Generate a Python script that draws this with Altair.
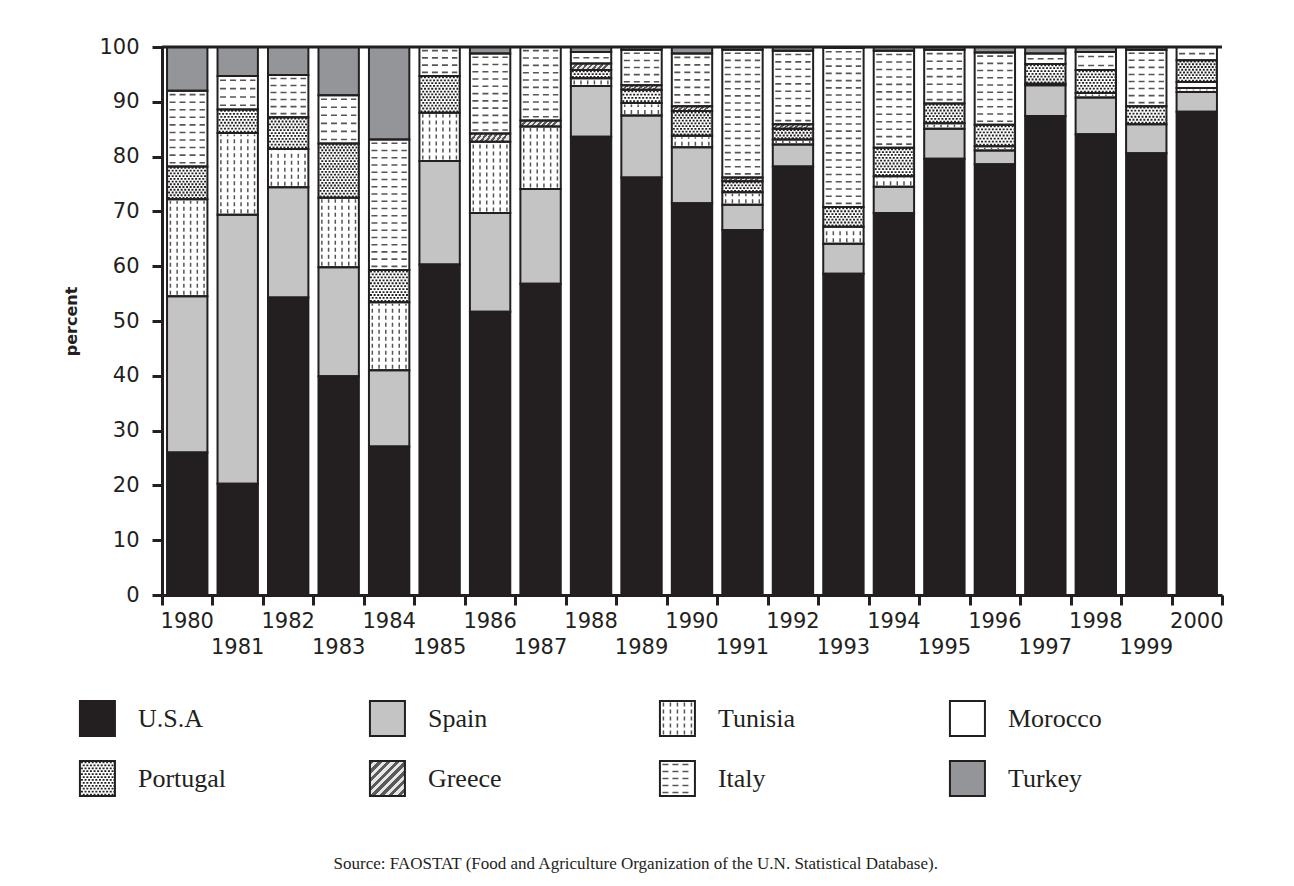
import altair as alt
import pandas as pd

# ---------------- data ----------------
years = list(range(1980, 2001))
countries = ["U.S.A", "Spain", "Tunisia", "Morocco", "Portugal", "Greece", "Italy", "Turkey"]

usa      = [26.0, 20.3, 54.3, 39.9, 27.1, 60.3, 51.7, 56.8, 83.6, 76.2, 71.5, 66.6, 78.2, 58.6, 69.7, 79.6, 78.6, 87.4, 84.1, 80.6, 88.2]
spain    = [28.5, 49.1, 20.1, 19.9, 13.9, 18.9, 18.0, 17.3, 9.3, 11.3, 10.2, 4.6, 4.0, 5.5, 4.8, 5.5, 2.5, 5.6, 6.7, 5.3, 3.6]
tunisia  = [17.7, 14.9, 7.0, 12.7, 12.4, 8.8, 13.0, 11.4, 1.4, 2.3, 2.1, 2.3, 0.9, 3.1, 1.9, 1.0, 0.8, 0.3, 0.8, 0.0, 0.7]
morocco  = [0.0, 0.0, 0.0, 0.0, 0.0, 0.0, 0.0, 0.0, 0.0, 0.0, 0.0, 0.0, 0.0, 0.0, 0.0, 0.0, 0.0, 0.0, 0.0, 0.0, 1.1]
portugal = [6.0, 4.3, 5.8, 9.9, 5.9, 6.7, 0.0, 0.0, 1.5, 2.4, 4.5, 2.0, 2.0, 3.6, 5.2, 3.6, 3.9, 3.6, 4.2, 3.3, 4.0]
greece   = [0.0, 0.0, 0.0, 0.0, 0.0, 0.0, 1.5, 1.1, 1.2, 0.8, 0.9, 0.7, 0.8, 0.0, 0.0, 0.0, 0.0, 0.0, 0.0, 0.0, 0.0]
italy    = [13.8, 6.1, 7.7, 8.8, 23.8, 5.3, 14.6, 13.4, 2.1, 6.5, 9.6, 23.3, 13.4, 29.0, 17.7, 9.8, 13.2, 1.9, 3.3, 10.3, 2.4]
turkey   = [8.0, 5.3, 5.1, 8.8, 16.9, 0.0, 1.2, 0.0, 0.9, 0.5, 1.2, 0.5, 0.7, 0.2, 0.7, 0.5, 1.0, 1.2, 0.9, 0.5, 0.0]

series = [usa, spain, tunisia, morocco, portugal, greece, italy, turkey]
fills = ["#231f20", "#c4c4c4", "#ffffff", "#ffffff", "#ffffff", "#bbbbbb", "#ffffff", "#939598"]
source_text = "Source: FAOSTAT (Food and Agriculture Organization of the U.N. Statistical Database)."

INK = "#231f20"
PAT = "#555555"

# ---------------- layout constants ----------------
W, H = 1060, 548
X_PX = W / 21.0          # px per year
Y_PX = H / 100.0         # px per percent
LW, LH = 1060, 96
LX_PX = 290.0            # px per legend column
LY_PX = 60.0             # px per legend row
LX0 = 0.283              # legend x-domain start (swatches start left of the plot edge)
HALF = 0.4               # half bar width in years

# ---------------- stacked segments ----------------
segs = []
for yi, yr in enumerate(years):
    base = 0.0
    for ci, c in enumerate(countries):
        v = series[ci][yi]
        if v > 0:
            segs.append(dict(country=c, x=yr - HALF, x2=yr + HALF, y=base, y2=base + v))
        base += v
seg_df = pd.DataFrame(segs)


def hlines(rects, xpx, ypx, step, inset):
    rows = []
    for r in rects:
        h = abs(r["y2"] - r["y"]) * ypx
        n = max(1, int(h // step))
        for i in range(n):
            yy = r["y"] + (i + 0.5) * (r["y2"] - r["y"]) / n
            rows.append(dict(x=r["x"] + inset / xpx, x2=r["x2"] - inset / xpx, y=yy, y2=yy, k=i % 2))
    return pd.DataFrame(rows)


def vlines(rects, xpx, ypx, step, inset):
    rows = []
    for r in rects:
        w = abs(r["x2"] - r["x"]) * xpx
        n = max(1, int(w // step))
        for i in range(n):
            xx = r["x"] + (i + 0.5) * (r["x2"] - r["x"]) / n
            rows.append(dict(x=xx, x2=xx, y=r["y"] + inset / ypx, y2=r["y2"] - inset / ypx, k=i % 2))
    return pd.DataFrame(rows)


def recs(df, c):
    return df[df["country"] == c].to_dict("records")


def stripes(n, a, b):
    st = []
    for i in range(n):
        o0, o1 = i / n, (i + 1) / n
        col = a if i % 2 == 0 else b
        st.append(alt.GradientStop(color=col, offset=o0))
        st.append(alt.GradientStop(color=col, offset=o1))
    return st


def build(df, xpx, ypx, xs, ys, greece_slope):
    X = alt.X("x:Q", scale=xs["scale"], axis=xs["axis"])
    Y = alt.Y("y:Q", scale=ys["scale"], axis=ys["axis"])
    enc = dict(x=X, x2="x2:Q", y=Y, y2="y2:Q")
    cscale = alt.Scale(domain=countries, range=fills)

    fill_layer = alt.Chart(df).mark_rect(strokeWidth=0).encode(
        fill=alt.Fill("country:N", scale=cscale, legend=None), **enc)

    greece_layer = alt.Chart(df[df["country"] == "Greece"]).mark_rect(
        strokeWidth=0,
        fill=alt.LinearGradient(gradient="linear", stops=stripes(16, "#5a5a5a", "#e6e6e6"),
                                x1=0, y1=0, x2=1, y2=greece_slope)).encode(**enc)

    tun = vlines(recs(df, "Tunisia"), xpx, ypx, 6.3, 1.5)
    ita = hlines(recs(df, "Italy"), xpx, ypx, 7.0, 2.5)
    por = hlines(recs(df, "Portugal"), xpx, ypx, 2.7, 1.0)

    layers = [fill_layer, greece_layer]
    if len(tun):
        layers.append(alt.Chart(tun).mark_rule(color=PAT, strokeWidth=1.5, strokeDash=[4, 3]).encode(**enc))
    if len(ita):
        layers.append(alt.Chart(ita).mark_rule(color=PAT, strokeWidth=1.6, strokeDash=[6, 4]).encode(**enc))
    if len(por):
        layers.append(alt.Chart(por[por["k"] == 0]).mark_rule(
            color="#222222", strokeWidth=1.8, strokeDash=[2, 1.6]).encode(**enc))
        layers.append(alt.Chart(por[por["k"] == 1]).mark_rule(
            color="#222222", strokeWidth=1.8, strokeDash=[2, 1.6], strokeDashOffset=1.8).encode(**enc))
    outline = alt.Chart(df).mark_rect(fill="transparent", stroke=INK, strokeWidth=2).encode(**enc)
    layers.append(outline)
    return layers, X, Y


# ---------------- main chart ----------------
xs_main = dict(
    scale=alt.Scale(domain=[1979.5, 2000.5], nice=False, zero=False),
    axis=alt.Axis(values=[1979.5 + i for i in range(22)], labels=False, title=None, grid=False,
                  tickSize=10, tickWidth=3, domainWidth=3, tickColor=INK, domainColor=INK))
ys_main = dict(
    scale=alt.Scale(domain=[0, 100], nice=False),
    axis=alt.Axis(values=list(range(0, 101, 10)), grid=False, tickSize=10, tickWidth=3, domainWidth=3,
                  tickColor=INK, domainColor=INK, labelFont="DejaVu Sans", labelFontSize=21,
                  labelColor=INK, labelPadding=13, title="percent", titleFont="DejaVu Sans",
                  titleFontSize=16, titleFontWeight="bold", titleColor=INK, titlePadding=19))

main_layers, MX, MY = build(seg_df, X_PX, Y_PX, xs_main, ys_main, 0.15)

top_df = pd.DataFrame({"y": [100]})
top_rule = alt.Chart(top_df).mark_rule(color=INK, strokeWidth=3).encode(y=MY)

lab_df = pd.DataFrame({"x": years, "y": [0] * len(years), "label": [str(y) for y in years],
                       "odd": [y % 2 for y in years]})
lab_even = alt.Chart(lab_df[lab_df["odd"] == 0]).mark_text(
    dy=27, baseline="middle", font="DejaVu Sans", fontSize=21, color=INK).encode(x=MX, y=MY, text="label:N")
lab_odd = alt.Chart(lab_df[lab_df["odd"] == 1]).mark_text(
    dy=53, baseline="middle", font="DejaVu Sans", fontSize=21, color=INK).encode(x=MX, y=MY, text="label:N")

main = alt.layer(*main_layers, top_rule, lab_even, lab_odd).properties(width=W, height=H)

# ---------------- legend chart ----------------
leg = []
for i, c in enumerate(countries):
    col, row = i % 4, i // 4
    leg.append(dict(country=c, x=col, x2=col + 35 / LX_PX, y=row, y2=row + 35 / LY_PX,
                    tx=col + 58 / LX_PX, ty=row + 17.5 / LY_PX))
leg_df = pd.DataFrame(leg)

xs_leg = dict(scale=alt.Scale(domain=[LX0, LX0 + LW / LX_PX], nice=False, zero=False), axis=None)
ys_leg = dict(scale=alt.Scale(domain=[0, LH / LY_PX], nice=False, zero=False, reverse=True), axis=None)
leg_layers, LXc, LYc = build(leg_df, LX_PX, LY_PX, xs_leg, ys_leg, 1.0)

leg_text = alt.Chart(leg_df).mark_text(
    align="left", baseline="middle", font="Liberation Serif", fontSize=26, color=INK).encode(
    x=alt.X("tx:Q", scale=xs_leg["scale"], axis=None),
    y=alt.Y("ty:Q", scale=ys_leg["scale"], axis=None),
    text="country:N")

legend = alt.layer(*leg_layers, leg_text).properties(width=LW, height=LH)

chart = alt.vconcat(main, legend, spacing=42).properties(
    title=alt.TitleParams(text=source_text, orient="bottom", anchor="middle", font="Liberation Serif",
                          fontSize=17, fontWeight="normal", color=INK, offset=59, dx=-8),
    padding={"left": 55, "top": 28, "right": 10, "bottom": 10},
).configure_view(strokeWidth=0)

chart.save("out.html", embed_options={"renderer": "svg", "actions": False})
